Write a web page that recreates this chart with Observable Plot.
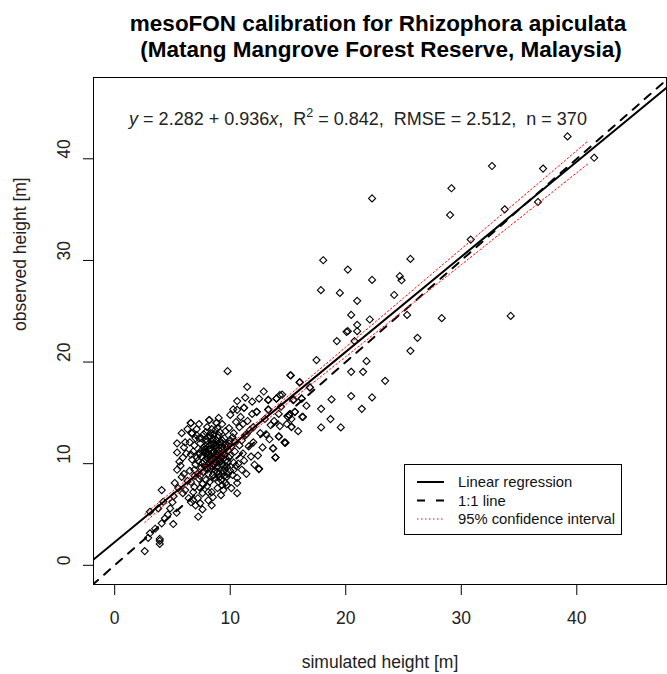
<!DOCTYPE html>
<html><head><meta charset="utf-8">
<script src="https://cdn.jsdelivr.net/npm/d3@7"></script>
<script src="https://cdn.jsdelivr.net/npm/@observablehq/plot@0.6"></script>
<style>
body{margin:0;background:#fff;}
svg{font-family:"Liberation Sans",Arial,sans-serif;}
</style>
</head><body><div id="chart"></div>
<script>
// ---- data ----
const titleLines = ["mesoFON calibration for Rhizophora apiculata", "(Matang Mangrove Forest Reserve, Malaysia)"];
const xTitle = "simulated height [m]";
const yTitle = "observed height [m]";
const xTicks = [0, 10, 20, 30, 40];
const yTicks = [0, 10, 20, 30, 40];
const intercept = 2.282;
const slope = 0.936;
const stats = {r2: 0.842, rmse: 2.512, n: 370};
const legendLabels = ["Linear regression", "1:1 line", "95% confidence interval"];

const simulated = [
 2.6,3.9,3.9,3.9,3.05,2.9,3.5,4.07,5.07,4.35,3.05,3.77,4.2,4.07,4.6,5.36,7.23,4.8,5.0,
 5.2,5.4,5.4,5.4,5.8,5.8,5.9,5.6,5.1,5.7,6.0,5.5,6.1,6.2,6.0,6.3,6.1,5.9,6.4,6.3,
 6.5,6.5,6.6,6.7,6.6,6.8,6.9,6.7,6.8,6.9,7.0,7.0,6.6,6.8,7.0,6.9,6.6,7.1,
 7.2,7.3,7.4,7.4,7.4,7.4,7.6,7.2,7.3,7.5,7.1,7.5,7.3,7.6,7.2,7.6,7.5,7.7,
 8.2,8.8,7.9,8.0,8.1,8.0,8.2,8.3,8.1,7.9,8.0,8.4,8.5,8.3,8.4,8.5,8.4,8.6,8.6,8.2,8.0,8.3,8.5,8.7,8.7,7.8,7.9,8.1,8.4,8.9,
 8.9,9.0,9.1,9.0,9.2,9.1,8.9,9.0,9.2,9.3,9.4,9.3,9.4,9.5,9.5,9.3,8.8,8.9,9.1,9.2,9.4,9.5,8.8,9.0,9.6,
 9.7,9.7,9.8,9.8,9.9,10.0,10.0,10.1,10.2,10.3,10.4,10.5,10.6,10.6,10.6,9.7,9.9,10.3,10.5,10.2,10.4,9.6,10.0,10.1,
 10.6,10.8,11.0,11.1,11.2,11.3,11.2,11.5,11.6,11.8,11.9,11.7,12.0,12.1,11.0,10.9,11.4,11.9,12.0,11.3,
 12.3,12.5,12.5,12.9,12.6,12.8,13.0,13.3,13.3,13.4,13.7,13.9,13.5,14.0,14.2,14.2,14.5,14.7,14.4,13.1,12.4,13.8,14.9,
 15.0,15.3,15.3,15.6,15.5,16.3,16.0,16.2,16.9,15.2,15.1,16.6,
 6.57,8.18,8.82,6.66,9.77,11.47,10.6,10.26,11.19,12.28,13.29,14.01,13.29,12.48,13.72,13.93,14.21,14.73,
 7.6,7.7,7.8,7.9,8.0,8.1,8.2,8.3,8.4,8.5,8.6,8.7,8.8,8.9,9.0,9.1,9.2,9.3,9.4,9.5,9.6,9.7,9.8,9.9,10.0,8.3,8.6,8.9,9.1,8.0,7.7,8.7,9.3,9.6,8.1,7.4,7.1,6.9,7.3,10.3,
 8.0,8.3,8.6,8.9,9.2,7.8,8.1,8.4,8.7,9.0,9.3,7.7,8.0,8.5,8.8,9.1,9.4,7.9,8.2,8.6,9.0,9.3,8.4,8.8,9.2,7.5,10.8,11.4,10.7,11.1,
 32.66,37.08,41.5,29.15,22.28,29.03,33.76,36.64,30.82,18.05,25.6,20.18,22.28,24.68,24.83,17.85,19.49,20.99,24.19,20.47,25.31,28.31,34.28,
 20.99,22.08,20.18,20.99,19.23,20.76,26.21,25.6,17.47,21.8,20.47,21.5,23.41,15.25,16.03,20.47,22.28,18.77,17.87,21.39,18.68,17.87,19.57,
 16.23,15.88,15.31,15.1,14.79,14.3,14.3,15.6,15.45,16.9,16.18,39.2,20.07
];
const observed = [
 1.4,2.1,2.4,2.6,3.15,2.7,3.6,4.13,4.06,4.62,5.27,5.6,6.25,7.4,5.0,5.17,4.78,5.6,6.2,
 8.1,9.4,11.1,12.0,13.0,8.7,7.1,10.2,6.8,9.8,11.6,7.6,12.1,11.0,9.0,8.3,7.4,10.6,6.6,13.4,
 9.3,12.1,14.0,13.0,6.2,6.4,7.7,10.4,11.2,8.8,9.9,12.5,10.9,7.2,5.9,11.8,8.2,13.4,
 10.3,11.0,12.0,11.0,7.6,6.1,5.5,9.0,8.5,9.6,12.8,10.7,13.9,7.1,6.6,8.0,12.5,11.6,
 14.3,14.0,13.1,12.2,11.4,10.8,10.1,9.5,9.0,8.4,7.8,7.2,6.7,12.7,11.9,11.1,10.5,9.9,8.6,8.2,13.6,13.0,12.4,10.7,9.3,9.8,11.8,6.4,5.9,7.6,
 13.5,12.8,12.1,11.4,10.9,10.2,9.7,9.0,8.4,7.9,7.4,11.7,10.5,9.6,12.5,13.9,11.0,10.4,8.7,6.9,11.1,8.8,12.3,14.5,13.2,
 9.7,8.7,10.2,11.3,12.0,10.8,9.3,11.7,12.6,10.1,11.2,9.8,8.1,8.6,7.1,7.9,13.5,13.0,14.1,8.9,12.2,11.9,14.8,7.6,
 15.3,13.6,12.3,11.0,10.3,12.8,15.5,14.2,11.7,10.7,16.1,13.3,12.1,9.9,9.4,14.6,9.0,14.9,13.6,16.5,
 15.1,16.4,9.5,17.1,13.0,11.6,14.4,16.3,15.3,12.4,11.5,10.6,13.8,16.4,12.7,14.9,16.8,12.1,15.6,12.9,10.8,14.2,13.9,
 14.6,14.4,13.6,15.1,16.3,14.6,18.0,16.4,17.5,18.7,14.8,15.7,
 14.0,14.29,14.02,12.98,19.1,17.56,16.16,15.34,15.5,15.1,16.25,16.42,15.34,9.47,11.5,10.62,12.65,12.06,
 10.0,9.2,11.2,10.4,9.4,12.6,11.8,10.8,9.8,8.9,12.0,11.4,10.1,9.2,8.2,11.8,10.6,9.9,9.3,10.9,10.3,11.6,9.0,10.6,12.3,11.5,10.4,12.6,13.1,11.0,12.9,13.3,12.3,8.1,7.2,8.8,10.6,9.4,12.5,9.4,
 10.6,10.3,11.2,10.8,11.5,11.4,10.9,12.2,11.7,10.5,12.0,10.2,9.6,10.0,11.8,10.4,11.0,12.4,9.9,12.9,10.7,9.0,13.4,9.6,10.2,11.3,11.8,12.9,10.0,13.9,
 39.29,39.04,40.1,37.1,36.1,34.47,35.03,35.75,32.05,30.02,30.15,29.1,28.08,28.45,28.05,27.07,26.8,26.02,26.6,24.64,24.64,24.32,24.54,
 23.66,24.19,23.04,23.04,22.06,22.06,22.38,21.1,20.19,20.09,19.04,19.04,18.15,18.68,18.02,16.65,16.52,16.32,15.4,15.4,14.39,13.57,13.57,
 14.61,13.2,13.63,14.78,12.06,13.7,16.75,15.1,16.25,17.5,16.42,42.2,22.97
];

// 95% confidence band
const ciX     = [2.6, 5, 8, 10, 15, 20, 25, 30, 35, 41];
const ciLower = [4.21, 6.63, 9.50, 11.38, 15.99, 20.53, 25.06, 29.58, 34.11, 39.54];
const ciUpper = [5.06, 7.29, 10.04, 11.90, 16.65, 21.47, 26.30, 31.14, 35.97, 41.78];

// ---- build tables ----
const points = simulated.map((s, i) => ({x: s, y: observed[i]}));
const xDomain = [-1.835, 47.765];
const yDomain = [-1.889, 48.0];
const regLine = xDomain.map(x => ({x, y: intercept + slope * x}));
const oneLine = [-3, 50].map(v => ({x: v, y: v}));
const ciLo = ciX.map((x, i) => ({x, y: ciLower[i]}));
const ciHi = ciX.map((x, i) => ({x, y: ciUpper[i]}));

const plot = Plot.plot({
  width: 667, height: 674,
  marginTop: 77, marginBottom: 90, marginLeft: 93, marginRight: 1,
  x: {domain: xDomain, label: null},
  y: {domain: yDomain, label: null},
  style: {fontFamily: "Liberation Sans, Arial, sans-serif", fontSize: "17.5px", color: "black", background: "white", overflow: "visible"},
  marks: [
    Plot.dot(points, {x: "x", y: "y", symbol: "diamond2", r: 3.2, stroke: "black", strokeWidth: 1.1, fill: "none"}),
    Plot.line(regLine, {x: "x", y: "y", stroke: "black", strokeWidth: 2, clip: true}),
    Plot.line(oneLine, {x: "x", y: "y", stroke: "black", strokeWidth: 2, strokeDasharray: "8,8", clip: true}),
    Plot.line(ciLo, {x: "x", y: "y", stroke: "red", strokeWidth: 1, strokeDasharray: "1.5,2.5"}),
    Plot.line(ciHi, {x: "x", y: "y", stroke: "red", strokeWidth: 1, strokeDasharray: "1.5,2.5"}),
    Plot.frame({stroke: "black", strokeWidth: 1}),
    Plot.axisX({ticks: xTicks, tickSize: 11, tickFormat: () => "", label: null, stroke: "black"}),
    Plot.axisY({ticks: yTicks, tickSize: 10, tickFormat: () => "", label: null, stroke: "black"}),
    Plot.text(xTicks, {x: d => d, frameAnchor: "bottom", dy: 34, lineAnchor: "middle", text: d => String(d), fill: "#222", fontSize: 17.5}),
    Plot.text(yTicks, {y: d => d, frameAnchor: "left", dx: -29, rotate: -90, lineAnchor: "middle", text: d => String(d), fill: "#222", fontSize: 17.5}),
    Plot.text([xTitle], {frameAnchor: "bottom", dy: 78, lineAnchor: "middle", text: d => d, fill: "#222", fontSize: 17.5}),
    Plot.text([yTitle], {frameAnchor: "left", dx: -73, rotate: -90, lineAnchor: "middle", text: d => d, fill: "#222", fontSize: 17.5}),
    Plot.text([titleLines[0]], {frameAnchor: "top", dx: -2, dy: -54, lineAnchor: "middle", text: d => d, fontWeight: "bold", fontSize: 22.5, fill: "black"}),
    Plot.text([titleLines[1]], {frameAnchor: "top", dx: 1, dy: -28, lineAnchor: "middle", text: d => d, fontWeight: "bold", fontSize: 22.5, fill: "black"}),
    Plot.text(["eq"], {frameAnchor: "top", dx: -22, dy: 42, lineAnchor: "middle", text: d => d, className: "eq", fontSize: 18, fill: "#222"})
  ]
});

// rich equation text
const eq = d3.select(plot).select("g.eq text");
eq.style("white-space", "pre").text(null);
eq.append("tspan").attr("font-style", "italic").text("y");
eq.append("tspan").text(" = " + intercept.toFixed(3) + " + " + slope.toFixed(3));
eq.append("tspan").attr("font-style", "italic").text("x");
eq.append("tspan").text(",  R");
eq.append("tspan").attr("font-size", 12.5).attr("dy", -8).text("2");
eq.append("tspan").attr("dy", 8).text(" = " + stats.r2.toFixed(3) + ",  RMSE = " + stats.rmse.toFixed(3) + ",  n = " + stats.n);

// legend inside the plot (bottom right)
const lg = d3.select(plot).append("g").attr("font-size", 14.8).attr("fill", "#111").attr("text-anchor", "start");
lg.append("rect").attr("x", 404.5).attr("y", 464.5).attr("width", 217).attr("height", 70).attr("fill", "white").attr("stroke", "black");
const styles = [
  {stroke: "black", w: 2, dash: null},
  {stroke: "black", w: 2, dash: "8,11"},
  {stroke: "red", w: 1, dash: "1.5,2.5"}
];
legendLabels.forEach((lab, i) => {
  const yy = 482 + i * 18.5;
  const ln = lg.append("line").attr("x1", 417).attr("x2", 444).attr("y1", yy).attr("y2", yy)
    .attr("stroke", styles[i].stroke).attr("stroke-width", styles[i].w);
  if (styles[i].dash) ln.attr("stroke-dasharray", styles[i].dash);
  lg.append("text").attr("x", 458).attr("y", yy + 5.3).attr("text-anchor", "start").text(lab);
});

document.getElementById("chart").append(plot);
</script>
</body></html>
